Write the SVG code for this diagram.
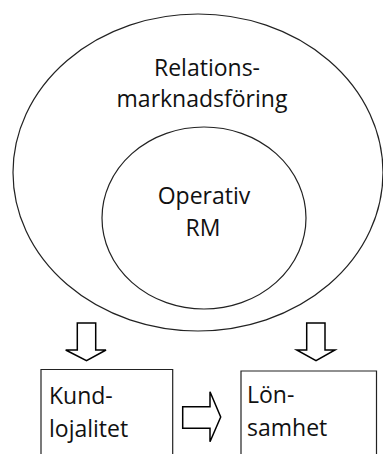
<svg xmlns="http://www.w3.org/2000/svg" width="383" height="454" viewBox="0 0 383 454">
<style>
.shape{fill:none;stroke:#222;stroke-width:1.2}
.arrow{fill:#fff;stroke:#000;stroke-width:1.5;stroke-linejoin:miter}
text{font-family:"Open Sans","Liberation Sans",sans-serif;font-size:23px;fill:#111}
.c{text-anchor:middle}
</style>
<rect width="383" height="454" fill="#fff"/>
<g id="relationsmarknadsforing">
<ellipse class="shape" cx="198" cy="172.5" rx="185" ry="158.5"/>
<text class="c" x="207" y="76">Relations-</text>
<text class="c" x="202" y="107">marknadsföring</text>
</g>
<g id="operativ-rm">
<ellipse class="shape" cx="204" cy="218" rx="102" ry="91"/>
<text class="c" x="204" y="204">Operativ</text>
<text class="c" x="203" y="236">RM</text>
</g>
<g id="kundlojalitet">
<path class="shape" d="M41,454 V369.5 H172.7 V454"/>
<text x="49" y="404">Kund-</text>
<text x="49" y="437">lojalitet</text>
</g>
<g id="lonsamhet">
<path class="shape" d="M241,454 V371 H376.5 V454"/>
<text x="247" y="403">Lön-</text>
<text x="247" y="436">samhet</text>
</g>
<g id="connectors">
<path class="arrow" d="M77.3,323 H95.7 V350 H106 L86.5,360.7 L65.7,350 H77.3 Z"/>
<path class="arrow" d="M306.7,323 H325 V350 H335 L316,360.7 L296.7,350 H306.7 Z"/>
<path class="arrow" d="M182.7,406.7 H210 V391.7 L220.7,417 L210,441.7 V428.3 H182.7 Z"/>
</g>
</svg>
